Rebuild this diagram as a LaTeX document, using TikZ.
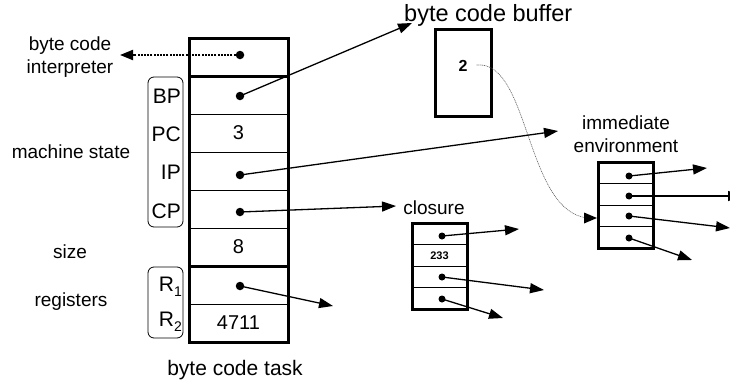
\documentclass[tikz,border=0pt]{standalone}
\usepackage{fontspec}
\setmainfont{Liberation Sans}
\usetikzlibrary{arrows.meta}
\begin{document}
\begin{tikzpicture}[x=1pt,y=-1pt,
  txt/.style={font=\fontsize{19}{23}\selectfont, inner sep=0pt, align=center},
  reg/.style={font=\fontsize{21}{24}\selectfont, inner sep=0pt, anchor=east},
  cell/.style={draw, line width=0.9pt, minimum width=99pt, minimum height=38pt,
    inner sep=0pt, outer sep=0pt, font=\fontsize{20}{24}\selectfont},
  slot/.style={draw, line width=0.9pt, minimum width=55pt, minimum height=21.5pt,
    inner sep=0pt, outer sep=0pt, font=\bfseries\fontsize{11}{12}\selectfont},
  frame/.style={line width=3pt},
  dot/.style={circle, fill, inner sep=0pt, minimum size=8.5pt},
  ptr/.style={line width=1.3pt, -{Triangle[length=14pt,width=10pt]}},
  group/.style={line width=0.8pt, rounded corners=6pt},
]
\useasboundingbox (0,0) rectangle (730,383);
\clip (0,0) rectangle (730,383);

% byte code task: a column of cells
\node[cell] (hdr) at (238.5,57) {};
\node[cell] (bp)  at (238.5,95) {};
\node[cell] (pc)  at (238.5,133) {3};
\node[cell] (ip)  at (238.5,171) {};
\node[cell] (cp)  at (238.5,209) {};
\node[cell] (sz)  at (238.5,247) {8};
\node[cell] (r1)  at (238.5,285) {};
\node[cell] (r2)  at (238.5,323) {4711};
\draw[frame] (hdr.north west) rectangle (r2.south east);
\draw[frame] (hdr.south west) -- (hdr.south east);
\draw[frame] (sz.south west) -- (sz.south east);

% register name groups
\draw[group] (148,77) rectangle (183,227);
\draw[group] (148,267) rectangle (183,338);
\node[reg] at (181,96) {BP};
\node[reg] at (181,134) {PC};
\node[reg] at (181,172) {IP};
\node[reg] at (181,211) {CP};
\node[reg] at (182,287) {R\raisebox{-5pt}{\fontsize{14}{14}\selectfont 1}};
\node[reg] at (182,322) {R\raisebox{-5pt}{\fontsize{14}{14}\selectfont 2}};

% left side labels
\node[txt] (interp) at (70,57) {byte code\\interpreter};
\node[txt] at (71,152) {machine state};
\node[txt] at (70,252) {size};
\node[txt] at (71,302) {registers};
\node[txt, font=\fontsize{21}{25}\selectfont] at (235,370) {byte code task};

% pointer dots in the task
\node[dot] (dhdr) at (240,55) {};
\node[dot] (dbp)  at (240,96) {};
\node[dot] (dip)  at (240,175) {};
\node[dot] (dcp)  at (240,212) {};
\node[dot] (dr1)  at (240,286) {};

% byte code buffer
\node[txt, font=\fontsize{23.5}{27}\selectfont, anchor=west] at (404,15) {byte code buffer};
\node[draw, frame, minimum width=56pt, minimum height=87pt, inner sep=0pt] (buf) at (463,72.5) {};
\node[font=\bfseries\fontsize{16}{18}\selectfont, inner sep=0pt] (two) at (463,66) {2};

% immediate environment
\node[txt] at (626,134.5) {immediate\\environment};
\node[slot] (e1) at (626,172.75) {};
\node[slot] (e2) at (626,194.25) {};
\node[slot] (e3) at (626,215.75) {};
\node[slot] (e4) at (626,237.25) {};
\draw[frame] (e1.north west) rectangle (e4.south east);
\node[dot, minimum size=7pt] (de1) at (629,176) {};
\node[dot, minimum size=7pt] (de2) at (629,196) {};
\node[dot, minimum size=7pt] (de3) at (629,216) {};
\node[dot, minimum size=7pt] (de4) at (629,238) {};

% closure
\node[txt] at (434,208) {closure};
\node[slot] (c1) at (439.5,233.75) {};
\node[slot] (c2) at (439.5,255.25) {233};
\node[slot] (c3) at (439.5,276.75) {};
\node[slot] (c4) at (439.5,298.25) {};
\draw[frame] (c1.north west) rectangle (c4.south east);
\node[dot, minimum size=7pt] (dc1) at (442,236) {};
\node[dot, minimum size=7pt] (dc3) at (442,277) {};
\node[dot, minimum size=7pt] (dc4) at (442,299) {};

% free ends of the pointers
\coordinate (tinterp) at (120,55);
\coordinate (tbuf) at (412,23);
\coordinate (tenv) at (558,131);
\coordinate (tclo) at (396,206);
\coordinate (tr1) at (333,306);
\coordinate (te1) at (707,168);
\coordinate (te2) at (742,196);
\coordinate (te3) at (730,228);
\coordinate (te4) at (692,260);
\coordinate (tc1) at (519,229);
\coordinate (tc3) at (544,290);
\coordinate (tc4) at (503,318);
\coordinate (benv) at (597,218);

% pointers
\draw[line width=2pt, dash pattern=on 2pt off 1.2pt, -{Triangle[length=13pt,width=10pt]}]
  (dhdr) -- (tinterp);
\draw[ptr] (dbp.center) -- (tbuf);
\draw[ptr] (dip.center) -- (tenv);
\draw[ptr] (dcp.center) -- (tclo);
\draw[ptr] (dr1.center) -- (tr1);
\foreach \s/\t in {de1/te1, de2/te2, de3/te3, de4/te4, dc1/tc1, dc3/tc3, dc4/tc4}
  \draw[ptr] (\s.center) -- (\t);

% link from the byte code to its environment
\draw[gray!70!black, line width=0.6pt, dash pattern=on 1pt off 0.8pt]
  (two.east) ++(9,-1) coordinate (cstart)
  (cstart) .. controls (530,60) and (525,212) .. ([xshift=-9pt]benv);
\draw[draw=none, fill=black] (benv) -- ++(-13,-5.5) -- ++(0,11) -- cycle;
\end{tikzpicture}
\end{document}
